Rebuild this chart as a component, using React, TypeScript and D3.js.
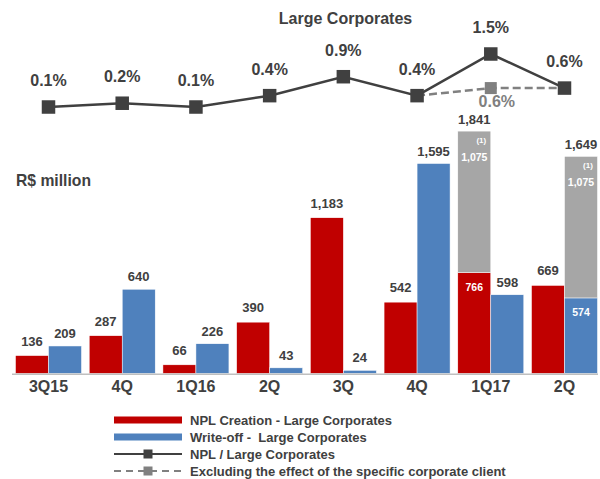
import React from "react";
import * as d3 from "d3";

const categories = ["3Q15", "4Q", "1Q16", "2Q", "3Q", "4Q", "1Q17", "2Q"];
const nplCreation = [136, 287, 66, 390, 1183, 542, 766, 669];
const writeOff = [209, 640, 226, 43, 24, 1595, 598, 574];
const specificCreation = [0, 0, 0, 0, 0, 0, 1075, 0];
const specificWriteOff = [0, 0, 0, 0, 0, 0, 0, 1075];
const nplRatio = [0.1, 0.2, 0.1, 0.4, 0.9, 0.4, 1.5, 0.6];
const excludingRatio: (number | null)[] = [null, null, null, null, null, 0.4, 0.6, 0.6];
const legendItems = [
  "NPL Creation - Large Corporates",
  "Write-off -  Large Corporates",
  "NPL / Large Corporates",
  "Excluding the effect of the specific corporate client",
];

const W = 600;
const H = 479;
const RED = "#C00000";
const BLUE = "#4F81BD";
const GRAY = "#A6A6A6";
const TXT = "#404040";
const DASH = "#808080";
const FONT = "'Liberation Sans', Arial, sans-serif";

const fmt = d3.format(",");

export default function App() {
  const idx = categories.map((_, i) => i);
  const x = d3.scalePoint<number>().domain(idx).range([48.5, 564.5]);
  const bw = 33;
  const baseY = 373.5;
  const y = d3.scaleLinear().domain([0, 1595]).range([baseY, 163.5]);
  const yl = d3.scaleLinear().domain([0, 1.5]).range([110.8, 54]);

  const line = d3
    .line<number>()
    .x((_, i) => x(i)!)
    .y((d) => yl(d));
  const exPts = excludingRatio
    .map((v, i) => ({ v, i }))
    .filter((d) => d.v !== null) as { v: number; i: number }[];
  const exLine = d3
    .line<{ v: number; i: number }>()
    .x((d) => x(d.i)!)
    .y((d) => yl(d.v));

  const bars: any[] = [];
  idx.forEach((i) => {
    const cx = x(i)!;
    const series = [
      { v: nplCreation[i], s: specificCreation[i], color: RED, x0: cx - bw, off: 10 },
      { v: writeOff[i], s: specificWriteOff[i], color: BLUE, x0: cx, off: 8 },
    ];
    series.forEach((b, k) => {
      const top = y(b.v);
      bars.push(
        <rect key={`b${i}-${k}`} x={b.x0} y={top} width={bw} height={baseY - top} fill={b.color} stroke="#fff" strokeWidth={0.5} />
      );
      if (b.s > 0) {
        const top2 = y(b.v + b.s);
        bars.push(
          <g key={`s${i}-${k}`}>
            <rect x={b.x0} y={top2} width={bw} height={top - top2} fill={GRAY} stroke="#fff" strokeWidth={0.5} />
            <text x={b.x0 + bw / 2} y={top + 18} textAnchor="middle" fill="#fff" fontSize={10.5} fontWeight="bold">{fmt(b.v)}</text>
            <text x={b.x0 + bw / 2} y={top2 + 30} textAnchor="middle" fill="#fff" fontSize={10.5} fontWeight="bold">{fmt(b.s)}</text>
            <text x={b.x0 + bw / 2 + 7} y={top2 + 11.5} textAnchor="middle" fill="#fff" fontSize={8} fontWeight="bold">(1)</text>
            <text x={b.x0 + bw / 2} y={top2 - 7} textAnchor="middle" fill={TXT} fontSize={13} fontWeight="bold">{fmt(b.v + b.s)}</text>
          </g>
        );
      } else {
        bars.push(
          <text key={`l${i}-${k}`} x={b.x0 + bw / 2} y={top - b.off} textAnchor="middle" fill={TXT} fontSize={13} fontWeight="bold">{fmt(b.v)}</text>
        );
      }
    });
  });

  const legY = [420, 437, 454, 471];

  return (
    <svg width={W} height={H} style={{ position: "absolute", left: 0, top: 0, background: "#fff" }} fontFamily={FONT}>
      <text x={345.5} y={23.5} textAnchor="middle" fill={TXT} fontSize={16} fontWeight="bold">Large Corporates</text>
      <text x={16} y={185.5} fill={TXT} fontSize={15.7} fontWeight="bold">R$ million</text>

      {bars}

      <line x1={12} x2={598} y1={baseY + 0.8} y2={baseY + 0.8} stroke="#BFBFBF" strokeWidth={1.5} />
      {idx.map((i) => (
        <text key={`c${i}`} x={x(i)!} y={392} textAnchor="middle" fill={TXT} fontSize={16} fontWeight="bold">{categories[i]}</text>
      ))}

      <path d={exLine(exPts)!} fill="none" stroke={DASH} strokeWidth={2.5} strokeDasharray="8,4" />
      <path d={line(nplRatio)!} fill="none" stroke={TXT} strokeWidth={2.5} />
      {nplRatio.map((v, i) => (
        <g key={`m${i}`}>
          <rect x={x(i)! - 6.75} y={yl(v) - 6.75} width={13.5} height={13.5} fill={TXT} />
          <text x={x(i)!} y={yl(v) - 21} textAnchor="middle" fill={TXT} fontSize={16} fontWeight="bold">{v.toFixed(1)}%</text>
        </g>
      ))}
      {exPts
        .filter((d) => d.v !== nplRatio[d.i])
        .map((d) => (
          <g key={`e${d.i}`}>
            <rect x={x(d.i)! - 6} y={yl(d.v) - 6} width={12} height={12} fill={DASH} />
            <text x={x(d.i)! + 6} y={yl(d.v) + 19} textAnchor="middle" fill={DASH} fontSize={16} fontWeight="bold">{d.v.toFixed(1)}%</text>
          </g>
        ))}

      {/* legend */}
      <rect x={114} y={legY[0] - 3.5} width={68} height={7} fill={RED} />
      <rect x={114} y={legY[1] - 3.5} width={68} height={7} fill={BLUE} />
      <line x1={114} x2={182} y1={legY[2]} y2={legY[2]} stroke={TXT} strokeWidth={2} />
      <rect x={143.5} y={legY[2] - 4.5} width={9} height={9} fill={TXT} />
      <line x1={114} x2={182} y1={legY[3]} y2={legY[3]} stroke={DASH} strokeWidth={2} strokeDasharray="7,5" />
      <rect x={143.5} y={legY[3] - 4.5} width={9} height={9} fill={DASH} />
      {legendItems.map((t, i) => (
        <text key={`t${i}`} x={190} y={legY[i] + 4.5} fill={TXT} fontSize={13} fontWeight="bold" style={{ whiteSpace: "pre" }}>{t}</text>
      ))}
    </svg>
  );
}
